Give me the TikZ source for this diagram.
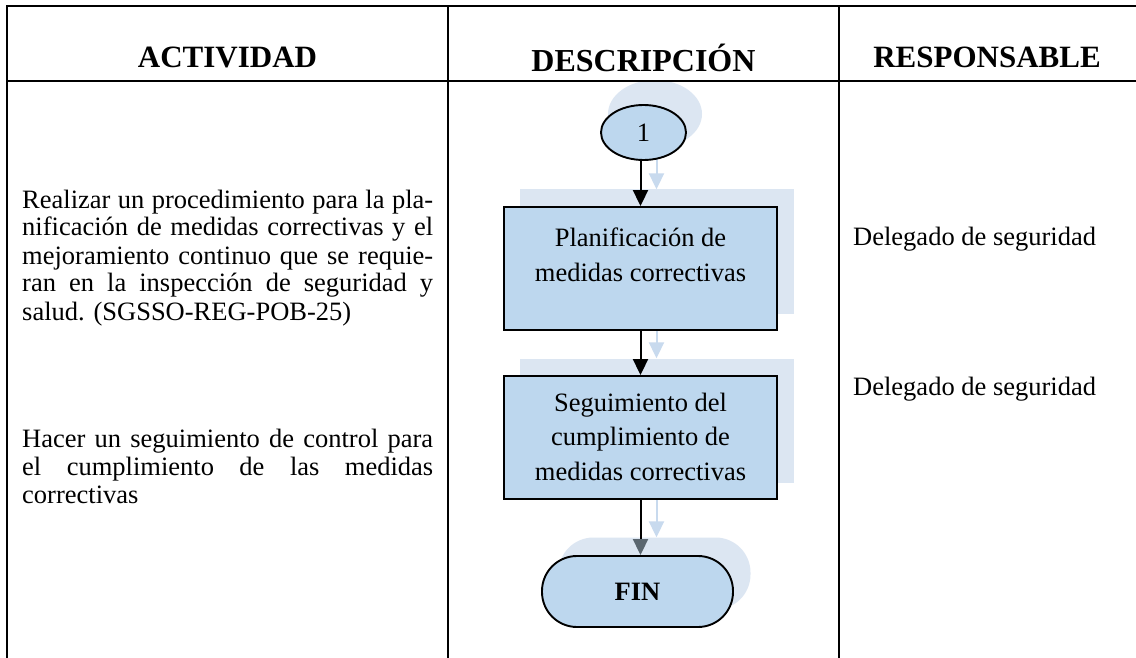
\documentclass[tikz,border=0pt]{standalone}
\usepackage{fontspec}
\setmainfont{Liberation Serif}
\usetikzlibrary{shapes.geometric,arrows.meta}
\definecolor{boxfill}{HTML}{BDD7EE}
\definecolor{shadowfill}{HTML}{DCE6F2}
\definecolor{shadowline}{HTML}{C8DAEE}
\definecolor{tipgray}{HTML}{5B6770}
\newcommand{\jline}[1]{\hbox to 411pt{#1}}
\begin{document}
\begin{tikzpicture}[x=1pt,y=-1pt,
  grid/.style={line width=2.8pt},
  fshape/.style={draw=black, line width=1.9pt, fill=boxfill, inner sep=0pt},
  shad/.style={fill=shadowfill, draw=none, inner sep=0pt},
  arr/.style={line width=2pt, -{Triangle[length=16pt,width=15pt]}},
  sarr/.style={draw=shadowline, line width=2pt, -{Triangle[length=16pt,width=15pt]}},
  head/.style={font=\fontsize{31}{36}\selectfont\bfseries, inner sep=0pt, anchor=base},
  body/.style={font=\fontsize{26.5}{28}\selectfont, inner sep=0pt, anchor=base west},
]
\useasboundingbox (0,0) rectangle (1136,658);
\fill[white] (0,0) rectangle (1136,658);

% shadows
\begin{scope}
\clip (449.5,82.5) rectangle (837.5,658);
\node[shad, ellipse, minimum width=94pt, minimum height=68pt] (s1) at (655,114) {};
\node[shad, minimum width=274pt, minimum height=124pt] (sb1) at (656.5,251.5) {};
\node[shad, minimum width=274pt, minimum height=124pt] (sb2) at (656.5,420.5) {};
\node[shad, rounded corners=35pt, minimum width=192pt, minimum height=72pt] (sfin) at (654.5,573.5) {};
\draw[sarr] (s1.south -| sb1.north) -- (sb1.north);
\draw[sarr] (sb1.south) -- (sb2.north);
\draw[sarr] (sb2.south) -- (sb2.south |- sfin.north);
\end{scope}

% flow shapes
\node[fshape, ellipse, minimum width=85pt, minimum height=55pt, font=\fontsize{26.5}{28}\selectfont] (c1) at (643.5,132.5) {1};
\node[fshape] (b1) at (640.5,268.5) {\parbox[t][123pt][t]{273pt}{\centering\fontsize{26.5}{35}\selectfont\vspace*{15.5pt}\strut Planificación de\\ medidas correctivas}};
\node[fshape] (b2) at (640.5,437.5) {\parbox[t][123pt][t]{273pt}{\centering\fontsize{26.5}{34.5}\selectfont\vspace*{10.85pt}\strut Seguimiento del\\ cumplimiento de\\ medidas correctivas}};
\node[fshape, rounded corners=35pt, minimum width=191pt, minimum height=71pt, font=\fontsize{26.5}{28}\selectfont\bfseries] (fin) at (637.5,591.5) {FIN};

\draw[arr] (c1.south -| b1.north) -- (b1.north);
\draw[arr] (b1.south) -- (b2.north);
\draw[line width=2pt, -{Triangle[length=16pt,width=15pt,color=tipgray]}] (b2.south) -- (b2.south |- fin.north);

% table
\draw[grid] (7,658) -- (7,6) -- (1136,6);
\draw[grid] (7,81) -- (1136,81);
\draw[grid] (448,6) -- (448,658);
\draw[grid] (839,6) -- (839,658);

% headers
\node[head] (h1) at (227.5,68) {ACTIVIDAD};
\node[head, font=\fontsize{32}{36}\selectfont\bfseries] (h2) at (643.5,72) {DESCRIPCIÓN};
\node[head] (h3) at (987,68) {RESPONSABLE};

% left column
\node[body] (t1) at (22,208) {\parbox[t]{411pt}{\fontsize{26.5}{28}\selectfont
\jline{Realizar un procedimiento para la pla-}
\jline{nificación de medidas correctivas y el}
\jline{mejoramiento continuo que se requie-}
\jline{ran en la inspección de seguridad y}
\hbox{salud. (SGSSO-REG-POB-25)}}};
\node[body] (t2) at (22,447) {\parbox[t]{411pt}{\fontsize{26.5}{28}\selectfont
\jline{Hacer un seguimiento de control para}
\jline{el cumplimiento de las medidas}
\hbox{correctivas}}};

% right column
\node[body] (r1) at (853,245) {Delegado de seguridad};
\node[body] (r2) at (853,395) {Delegado de seguridad};
\end{tikzpicture}
\end{document}
